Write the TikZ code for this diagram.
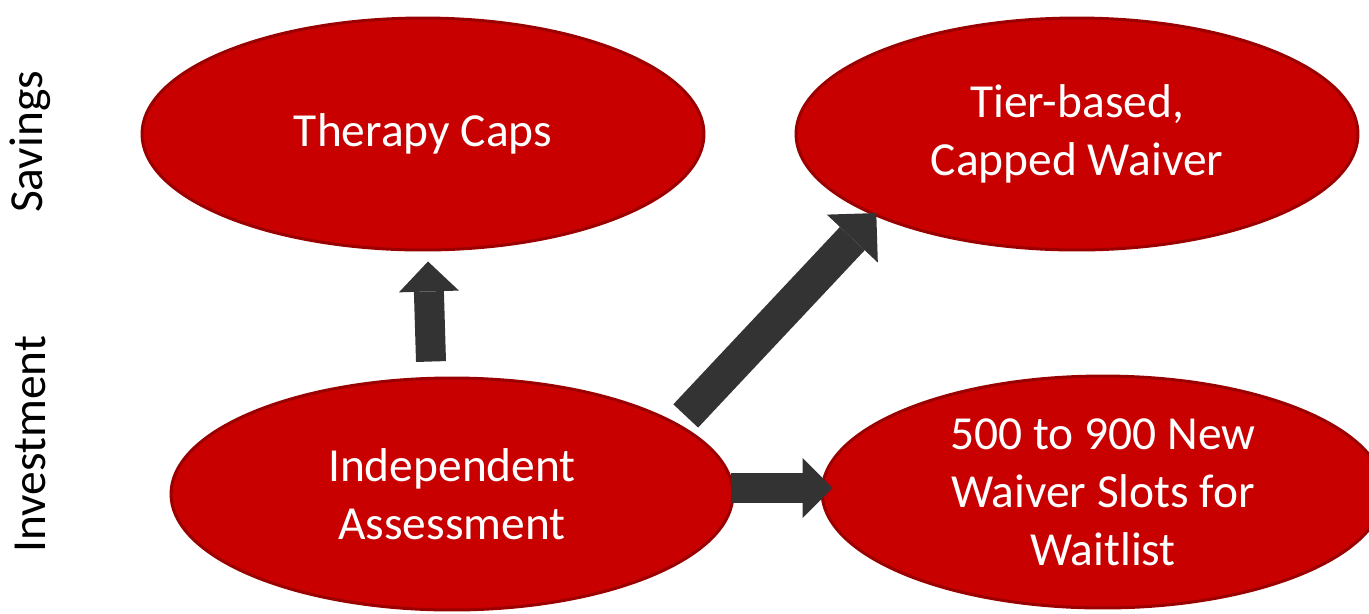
\documentclass[tikz,border=0pt]{standalone}
\usepackage{fontspec}
\setmainfont{Carlito}
\usetikzlibrary{shapes.geometric,arrows.meta,calc}
\definecolor{blobred}{HTML}{C80000}
\definecolor{blobedge}{HTML}{9A0000}
\definecolor{arrowgray}{HTML}{333333}
\begin{document}
\begin{tikzpicture}[x=0.02cm,y=-0.02cm,
    blob/.style={ellipse,draw=blobedge,fill=blobred,line width=0.06cm,
        minimum width=11.24cm,minimum height=4.64cm,inner sep=0pt,
        text=white,align=center,font=\fontsize{27}{33}\selectfont},
    blockarrow/.style={color=arrowgray,line width=0.6cm,
        -{Triangle[length=0.6cm,width=1.2cm,line width=0pt]}},
    sidelabel/.style={rotate=90,font=\fontsize{27}{33}\selectfont}]
\useasboundingbox (0,0) rectangle (1369,613);
% Row labels
\node[sidelabel] (sav) at (30,142) {Savings};
\node[sidelabel] (inv) at (30,444) {Investment};
% Savings
\node[blob] (tc) at (423,134) {Therapy Caps};
\node[blob] (tw) at (1077,134) {Tier-based,\\Capped Waiver};
% Investment
\node[blob] (ia) at (452,494) {Independent\\Assessment};
\node[blob] (wl) at (1103,492) {500 to 900 New\\Waiver Slots for\\Waitlist};
% Arrows
\draw[blockarrow] ($(ia.north)+(-21,-15)$) -- ($(tc.south)+(5,10)$);
\draw[blockarrow,line width=0.68cm,
    -{Triangle[length=0.7cm,width=1.4cm,line width=0pt]}]
    ($(ia.north east)+(34,5)$) -- ($(tw.south west)+(-1,-4)$);
\draw[blockarrow] ($(ia.east)+(-3,-6)$) -- ($(wl.west)+(12,-4)$);
\end{tikzpicture}
\end{document}
